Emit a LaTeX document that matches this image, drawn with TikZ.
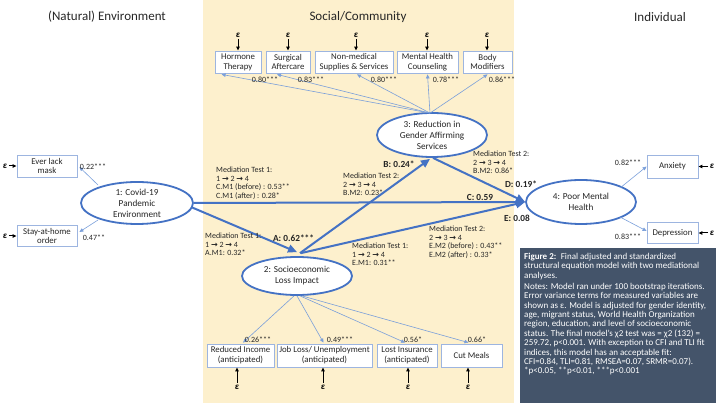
\documentclass[tikz,border=0pt]{standalone}
\usepackage{fontspec}
\setmainfont{Carlito}
\newfontfamily\arrfont{DejaVu Sans}
\usetikzlibrary{arrows.meta,calc,shapes.geometric}
\definecolor{beige}{HTML}{FDF0CD}
\definecolor{sblue}{HTML}{4472C4}
\definecolor{lblue}{HTML}{7A9FDA}
\definecolor{bbord}{HTML}{9DB5E0}
\definecolor{slate}{HTML}{44546A}
\definecolor{txt}{HTML}{262626}
\newcommand\rar{{\arrfont\bfseries →}}
\newcommand\epsy{\textbf{\textit{ε}}}
\begin{document}
\begin{tikzpicture}[x=1pt,y=-1pt,
  box/.style={draw=bbord, line width=0.8pt, fill=white, inner sep=0pt, align=center, font=\fontsize{8.8}{9.8}\selectfont, text=txt},
  lat/.style={draw=sblue, line width=1.8pt, ellipse, inner sep=0pt, align=center, font=\fontsize{9.2}{11}\selectfont, fill=white, text=txt},
  struct/.style={draw=sblue, line width=2pt, -{Triangle[length=9pt,width=8pt]}},
  load/.style={draw=lblue, line width=0.6pt, -{Triangle[length=4pt,width=3.5pt]}},
  err/.style={draw=black, line width=1pt, -{Triangle[length=4pt,width=3.5pt]}},
  eps/.style={inner sep=0pt, font=\fontsize{9}{9}\selectfont, text=black},
  lab/.style={inner sep=0pt, font=\fontsize{8}{8}\selectfont, text=txt},
  med/.style={inner sep=0pt, anchor=north west, align=left, font=\fontsize{8}{8.6}\selectfont, text=txt},
  coef/.style={inner sep=0pt, font=\bfseries\fontsize{9.3}{10}\selectfont, text=txt},
  head/.style={inner sep=0pt, font=\fontsize{13}{14}\selectfont, text=txt}
]
\path[use as bounding box] (0,0) rectangle (716,403);
\fill[beige] (203,0) rectangle (514,403);
\node[fill=slate, minimum width=196pt, minimum height=155pt, anchor=north west, inner sep=0pt] (capbox) at (520,248) {};

% headers
\node[head] (hnat) at (107,17) {(Natural) Environment};
\node[head] (hsoc) at (358,17) {Social/Community};
\node[head] (hind) at (660,17) {Individual};

% latent ellipses
\node[lat, minimum width=112pt, minimum height=42pt] (e1) at (137,203) {1: Covid-19\\Pandemic\\Environment};
\node[lat, minimum width=110pt, minimum height=38pt] (e2) at (297,276) {2: Socioeconomic\\Loss Impact};
\node[lat, minimum width=110pt, minimum height=44pt] (e3) at (432,135) {3: Reduction in\\Gender Affirming\\Services};
\node[lat, minimum width=110pt, minimum height=44pt] (e4) at (581,202) {4: Poor Mental\\Health};

% top indicator boxes
\node[box, minimum width=46pt, minimum height=22pt] (ht) at (238,62) {Hormone\\Therapy};
\node[box, minimum width=44pt, minimum height=22pt] (sa) at (288,62) {Surgical\\Aftercare};
\node[box, minimum width=78pt, minimum height=22pt] (nm) at (354,62) {Non-medical\\Supplies \& Services};
\node[box, minimum width=61pt, minimum height=22pt] (mh) at (427.5,62) {Mental Health\\Counseling};
\node[box, minimum width=49pt, minimum height=22pt] (bm) at (487.5,62) {Body\\Modifiers};

\node[eps] (epsht) at (238,35) {\epsy};
\node[eps] (epssa) at (288,35) {\epsy};
\node[eps] (epsnm) at (356,35) {\epsy};
\node[eps] (epsmh) at (427,35) {\epsy};
\node[eps] (epsbm) at (487,35) {\epsy};
\draw[err] ($(epsht.south)+(0,1.5)$) -- (epsht.south |- ht.north);
\draw[err] ($(epssa.south)+(0,1.5)$) -- (epssa.south |- sa.north);
\draw[err] ($(epsnm.south)+(0,1.5)$) -- (epsnm.south |- nm.north);
\draw[err] ($(epsmh.south)+(0,1.5)$) -- (epsmh.south |- mh.north);
\draw[err] ($(epsbm.south)+(0,1.5)$) -- (epsbm.south |- bm.north);

% top loadings
\draw[load] ($(e3.north)+(-2,1)$) -- ($(ht.south west)+(7,1)$);
\draw[load] ($(e3.north)+(-2,1)$) -- ($(sa.south)+(-11,1)$);
\draw[load] ($(e3.north)+(-2,1)$) -- ($(nm.south)+(3,1)$);
\draw[load] ($(e3.north)+(-2,1)$) -- ($(mh.south)+(0,1)$);
\draw[load] ($(e3.north)+(-2,1)$) -- ($(bm.south)+(0,1)$);
\node[lab] (l1) at (265,80) {0.80***};
\node[lab] (l2) at (311,80) {0.83***};
\node[lab] (l3) at (384,80) {0.80***};
\node[lab] (l4) at (446,80) {0.78***};
\node[lab] (l5) at (502,80) {0.86***};

% left indicators
\node[box, minimum width=60pt, minimum height=22pt] (elm) at (47,166) {Ever lack\\mask};
\node[box, minimum width=60pt, minimum height=21pt] (sah) at (47,236) {Stay-at-home\\order};
\node[eps] (epselm) at (5,166) {\epsy};
\node[eps] (epssah) at (5,236) {\epsy};
\draw[err] ($(epselm.east)+(1.5,0)$) -- (elm.west);
\draw[err] ($(epssah.east)+(1.5,0)$) -- (sah.west);
\draw[load] ($(e1.center)+(-39,-18)$) -- ($(elm.east)+(2,1)$);
\draw[load] ($(e1.center)+(-39,17)$) -- ($(sah.east)+(2,-4)$);
\node[lab] (l6) at (93,167) {0.22***};
\node[lab] (l7) at (94,238) {0.47**};

% right indicators
\node[box, minimum width=51pt, minimum height=23pt] (anx) at (672.5,166.5) {Anxiety};
\node[box, minimum width=51pt, minimum height=21pt] (dep) at (672.5,233) {Depression};
\node[eps] (epsanx) at (712,166.5) {\epsy};
\node[eps] (epsdep) at (712,233) {\epsy};
\draw[err] ($(epsanx.west)+(-1.5,0)$) -- (anx.east);
\draw[err] ($(epsdep.west)+(-1.5,0)$) -- (dep.east);
\draw[load] ($(e4.center)+(39,-14)$) -- (anx.west);
\draw[load] ($(e4.center)+(39,15)$) -- ($(dep.west)+(0,-2)$);
\node[lab] (l8) at (628,163) {0.82***};
\node[lab] (l9) at (628,237) {0.83***};

% bottom indicators
\node[box, minimum width=67pt, minimum height=23pt] (ri) at (240.5,355.5) {Reduced Income\\(anticipated)};
\node[box, minimum width=95pt, minimum height=23pt] (jl) at (324.5,355.5) {Job Loss/ Unemployment\\(anticipated)};
\node[box, minimum width=60pt, minimum height=23pt] (li) at (407,355.5) {Lost Insurance\\(anticipated)};
\node[box, minimum width=61pt, minimum height=23pt] (cm) at (471.5,355.5) {Cut Meals};
\node[eps] (epsri) at (237,387) {\epsy};
\node[eps] (epsjl) at (323,387) {\epsy};
\node[eps] (epsli) at (408,387) {\epsy};
\node[eps] (epscm) at (468,387) {\epsy};
\draw[err] ($(epsri.north)+(0,-2)$) -- (epsri.north |- ri.south);
\draw[err] ($(epsjl.north)+(0,-2)$) -- (epsjl.north |- jl.south);
\draw[err] ($(epsli.north)+(0,-2)$) -- (epsli.north |- li.south);
\draw[err] ($(epscm.north)+(0,-2)$) -- (epscm.north |- cm.south);
\draw[load] ($(e2.south)+(-3,0)$) -- ($(ri.north)+(2.5,-1)$);
\draw[load] ($(e2.south)+(0,0)$) -- ($(jl.north)+(-1,-1)$);
\draw[load] ($(e2.south)+(3,0)$) -- ($(li.north)+(-2,-1)$);
\draw[load] ($(e2.south)+(5,0)$) -- ($(cm.north)+(-3,-1)$);
\node[lab] (l10) at (258,340) {0.26***};
\node[lab] (l11) at (340,340) {0.49***};
\node[lab] (l12) at (413,340) {0.56*};
\node[lab] (l13) at (477,340) {0.66*};

% structural paths
\draw[struct] ($(e1.center)+(54,4)$) -- ($(e2.north)+(0,-4)$);
\draw[struct] ($(e2.north)+(3,-3)$) -- ($(e3.south)+(-2,1)$);
\draw[struct] (e1.east) -- (e4.west);
\draw[struct] ($(e3.south)+(1,0)$) -- (e4.west);
\draw[struct] ($(e2.north)+(4,-3)$) -- (e4.west);

\node[coef] (ca) at (293.5,238) {A: 0.62***};
\node[coef] (cb) at (399,164) {B: 0.24*};
\node[coef] (cc) at (480,197) {C: 0.59};
\node[coef] (cd) at (521,184) {D: 0.19*};
\node[coef] (ce) at (517,218) {E: 0.08};

% mediation notes
\node[med] (m1) at (216,167) {Mediation Test 1:\\1 \rar{} 2 \rar{} 4\\C.M1 (before) : 0.53**\\C.M1 (after) : 0.28*};
\node[med] (m2) at (205,233) {Mediation Test 1:\\1 \rar{} 2 \rar{} 4\\A.M1: 0.32*};
\node[med] (m3) at (343,173) {Mediation Test 2:\\2 \rar{} 3 \rar{} 4\\B.M2: 0.23*};
\node[med] (m4) at (473,151) {Mediation Test 2:\\2 \rar{} 3 \rar{} 4\\B.M2: 0.86*};
\node[med] (m5) at (429,226) {Mediation Test 2:\\2 \rar{} 3 \rar{} 4\\E.M2 (before) : 0.43**\\E.M2 (after) : 0.33*};
\node[med] (m6) at (352,243) {Mediation Test 1:\\1 \rar{} 2 \rar{} 4\\E.M1: 0.31**};

% caption
\node[anchor=north west, inner sep=0pt, align=left, text=white, font=\fontsize{9}{9.4}\selectfont] (cap) at (524,253) {\textbf{Figure 2:}\enspace Final adjusted and standardized\\
structural equation model with two mediational\\
analyses.\\[1.5pt]
Notes: Model ran under 100 bootstrap iterations.\\
Error variance terms for measured variables are\\
shown as ε. Model is adjusted for gender identity,\\
age, migrant status, World Health Organization\\
region, education, and level of socioeconomic\\
status. The final model’s χ2 test was = χ2 (132) =\\
259.72, p<0.001. With exception to CFI and TLI fit\\
indices, this model has an acceptable fit:\\
CFI=0.84, TLI=0.81, RMSEA=0.07, SRMR=0.07).\\
*p<0.05, **p<0.01, ***p<0.001};
\end{tikzpicture}
\end{document}
